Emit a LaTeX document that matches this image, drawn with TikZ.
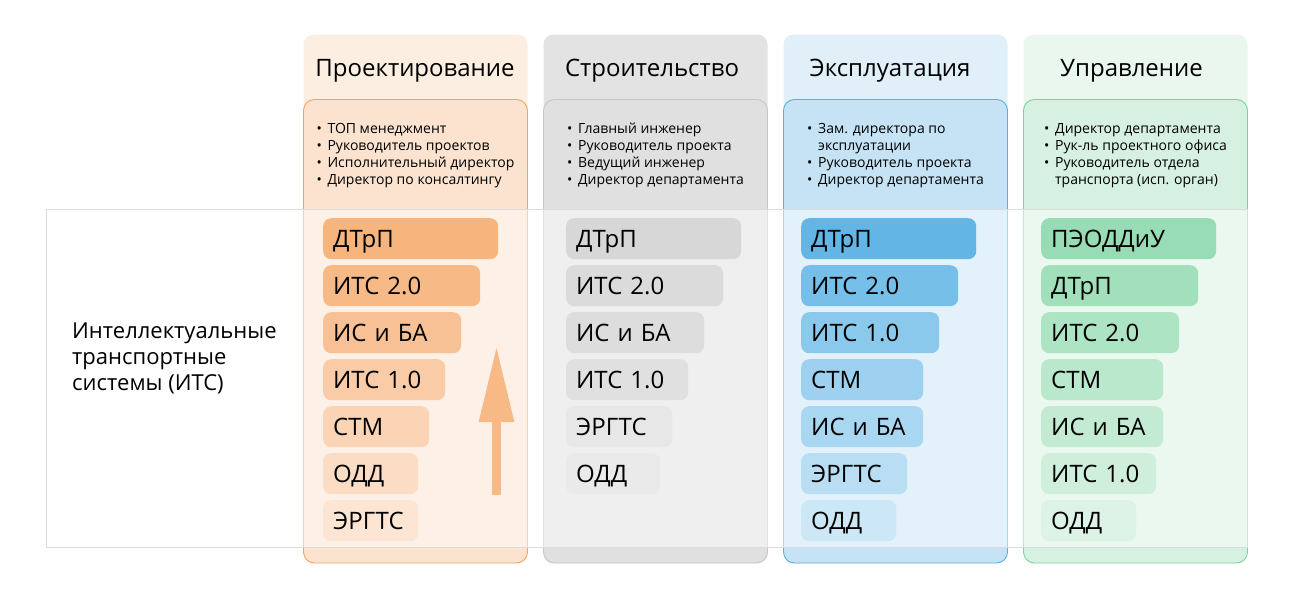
\documentclass[tikz,border=0pt]{standalone}
\usepackage{fontspec}
\setmainfont{Open Sans}
\usetikzlibrary{arrows.meta}
% column colours
\definecolor{oHead}{HTML}{FDEEE2}\definecolor{oCard}{HTML}{FBE3CF}\definecolor{oLine}{HTML}{F2A462}
\definecolor{gHead}{HTML}{E3E3E3}\definecolor{gCard}{HTML}{E0E0E0}\definecolor{gLine}{HTML}{C6C6C6}
\definecolor{bHead}{HTML}{E1EFF9}\definecolor{bCard}{HTML}{C6E3F5}\definecolor{bLine}{HTML}{5AAEE2}
\definecolor{nHead}{HTML}{E9F7EF}\definecolor{nCard}{HTML}{D6F1E1}\definecolor{nLine}{HTML}{7AD3A0}
\definecolor{bandLine}{HTML}{DCDCDC}
\definecolor{arrowc}{HTML}{F7BA86}
% bar colours
\definecolor{o1c}{HTML}{F6B57D}\definecolor{o2c}{HTML}{F7BA86}\definecolor{o3c}{HTML}{F8C195}
\definecolor{o4c}{HTML}{F9CBA6}\definecolor{o5c}{HTML}{FAD4B5}\definecolor{o6c}{HTML}{FBDCC4}\definecolor{o7c}{HTML}{FCE5D3}
\definecolor{g1c}{HTML}{D7D7D7}\definecolor{g2c}{HTML}{DBDBDB}\definecolor{g3c}{HTML}{DDDDDD}
\definecolor{g4c}{HTML}{E0E0E0}\definecolor{g5c}{HTML}{E7E7E7}\definecolor{g6c}{HTML}{EAEAEA}
\definecolor{b1c}{HTML}{62B5E4}\definecolor{b2c}{HTML}{76BFE8}\definecolor{b3c}{HTML}{8BC9EC}
\definecolor{b4c}{HTML}{9DD1EF}\definecolor{b5c}{HTML}{A9D7F1}\definecolor{b6c}{HTML}{B9DEF3}\definecolor{b7c}{HTML}{CCE7F6}
\definecolor{n1c}{HTML}{97DCB4}\definecolor{n2c}{HTML}{A2E0BC}\definecolor{n3c}{HTML}{ADE4C4}
\definecolor{n4c}{HTML}{BAE8CD}\definecolor{n5c}{HTML}{C3EBD4}\definecolor{n6c}{HTML}{CFEFDC}\definecolor{n7c}{HTML}{DCF3E6}
\newcommand\bi{\makebox[11pt][l]{•}}
\newcommand\bc{\hspace*{11pt}}
\newcommand\mkbar[6]{%
  \pgfmathsetmacro\mytw{#4-20}%
  \node[barbox, fill=#5, text width=\mytw pt] (#1) at (#2,#3) {#6};}
\newcommand\mkcolumn[4]{%
  \fill[#2, rounded corners=10pt] (#1,34.5) rectangle (#1+224,563);
  \filldraw[fill=#3, draw=#4, line width=0.9pt, rounded corners=11pt] (#1,99.5) rectangle (#1+224,563);}
\begin{document}
\begin{tikzpicture}[x=1pt,y=-1pt,
  barbox/.style={anchor=north west, rounded corners=8pt, inner xsep=10pt, inner ysep=0pt,
    minimum height=41pt, text height=17.1pt, text depth=0pt, align=left,
    font=\fontsize{24}{28}\selectfont},
  coltitle/.style={inner sep=0pt, text height=17.1pt, text depth=0pt, font=\fontsize{24}{28}\selectfont},
  rolelist/.style={anchor=north, inner sep=0pt, align=left, font=\fontsize{14}{17}\selectfont},
  sidelabel/.style={anchor=north west, inner sep=0pt, align=left, font=\fontsize{22}{26}\selectfont}]
\useasboundingbox (0,0) rectangle (1300,600);
\fill[white] (0,0) rectangle (1300,600);
% columns
\mkcolumn{303.5}{oHead}{oCard}{oLine}
\mkcolumn{543.5}{gHead}{gCard}{gLine}
\mkcolumn{783.5}{bHead}{bCard}{bLine}
\mkcolumn{1023.5}{nHead}{nCard}{nLine}
% band
\filldraw[fill=white, fill opacity=0.5, draw=bandLine, line width=0.9pt] (46,209.5) rectangle (1247.5,547);
% titles
\node[coltitle] (t1) at (415,67.5) {Проектирование};
\node[coltitle] (t2) at (652,67.5) {Строительство};
\node[coltitle] (t3) at (890,67.5) {Эксплуатация};
\node[coltitle] (t4) at (1131.5,67.5) {Управление};
% role lists
\node[rolelist] (r1) at (415.5,123) {\bi ТОП менеджмент\\\bi Руководитель проектов\\\bi Исполнительный директор\\\bi Директор по консалтингу};
\node[rolelist] (r2) at (655.5,123) {\bi Главный инженер\\\bi Руководитель проекта\\\bi Ведущий инженер\\\bi Директор департамента};
\node[rolelist] (r3) at (895.5,123) {\bi Зам. директора по\\\bc эксплуатации\\\bi Руководитель проекта\\\bi Директор департамента};
\node[rolelist] (r4) at (1135.5,123) {\bi Директор департамента\\\bi Рук-ль проектного офиса\\\bi Руководитель отдела\\\bc транспорта (исп. орган)};
% side label
\node[sidelabel] (its) at (72,323) {Интеллектуальные\\транспортные\\системы (ИТС)};
% orange bars
\mkbar{o1}{323}{218}{175}{o1c}{ДТрП}
\mkbar{o2}{323}{265}{157}{o2c}{ИТС 2.0}
\mkbar{o3}{323}{312}{138}{o3c}{ИС и БА}
\mkbar{o4}{323}{359}{122}{o4c}{ИТС 1.0}
\mkbar{o5}{323}{406}{106}{o5c}{СТМ}
\mkbar{o6}{323}{453}{95}{o6c}{ОДД}
\mkbar{o7}{323}{500}{95}{o7c}{ЭРГТС}
% grey bars
\mkbar{g1}{566}{218}{175}{g1c}{ДТрП}
\mkbar{g2}{566}{265}{157}{g2c}{ИТС 2.0}
\mkbar{g3}{566}{312}{138}{g3c}{ИС и БА}
\mkbar{g4}{566}{359}{122}{g4c}{ИТС 1.0}
\mkbar{g5}{566}{406}{106}{g5c}{ЭРГТС}
\mkbar{g6}{566}{453}{94}{g6c}{ОДД}
% blue bars
\mkbar{b1}{801}{218}{175}{b1c}{ДТрП}
\mkbar{b2}{801}{265}{157}{b2c}{ИТС 2.0}
\mkbar{b3}{801}{312}{138}{b3c}{ИТС 1.0}
\mkbar{b4}{801}{359}{122}{b4c}{СТМ}
\mkbar{b5}{801}{406}{122}{b5c}{ИС и БА}
\mkbar{b6}{801}{453}{106}{b6c}{ЭРГТС}
\mkbar{b7}{801}{500}{95}{b7c}{ОДД}
% green bars
\mkbar{n1}{1041}{218}{175}{n1c}{ПЭОДДиУ}
\mkbar{n2}{1041}{265}{157}{n2c}{ДТрП}
\mkbar{n3}{1041}{312}{138}{n3c}{ИТС 2.0}
\mkbar{n4}{1041}{359}{122}{n4c}{СТМ}
\mkbar{n5}{1041}{406}{122}{n5c}{ИС и БА}
\mkbar{n6}{1041}{453}{115}{n6c}{ИТС 1.0}
\mkbar{n7}{1041}{500}{95}{n7c}{ОДД}
% arrow
\coordinate (arrS) at (496.5,495);
\coordinate (arrE) at (496.5,346);
\draw[arrowc, line width=9pt, -{Triangle[width=33pt,length=76pt]}] (arrS) -- (arrE);
\end{tikzpicture}
\end{document}
